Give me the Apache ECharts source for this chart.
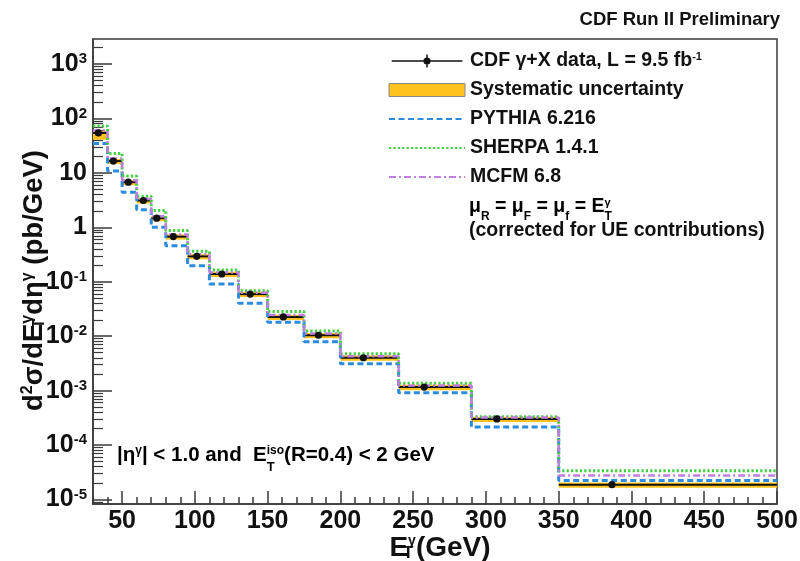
<!DOCTYPE html>
<html>
<head>
<meta charset="utf-8">
<script src="https://cdn.jsdelivr.net/npm/echarts/dist/echarts.min.js"></script>
<style>
html, body { margin: 0; padding: 0; background: #fff; }
#main { width: 800px; height: 561px; }
</style>
</head>
<body>
<div id="main"></div>
<script>
// bin edges (GeV)
var edges = [30, 40, 50, 60, 70, 80, 95, 110, 130, 150, 175, 200, 240, 290, 350, 500];
// mean E_T of the data points inside each bin
var xMean = [33.7, 44, 54.3, 64.6, 73.8, 85.2, 101.3, 118.5, 138, 160.8, 184.9, 215.8, 257.6, 307.5, 386.6];
// CDF data (pb/GeV)
var dataVal = [54.2, 16.5, 6.76, 3.11, 1.47, 0.675, 0.293, 0.139, 0.0593, 0.0226, 0.0104, 0.00402, 0.00116, 0.000302, 1.87e-5];
// relative stat. errors
var statErr = [0.01, 0.01, 0.01, 0.01, 0.01, 0.01, 0.01, 0.02, 0.02, 0.02, 0.03, 0.03, 0.04, 0.06, 0.08];
// relative systematic band
var sysUp = [0.10, 0.10, 0.10, 0.10, 0.10, 0.10, 0.10, 0.10, 0.10, 0.10, 0.10, 0.10, 0.10, 0.10, 0.10];
var sysDown = [0.25, 0.12, 0.12, 0.12, 0.12, 0.12, 0.12, 0.12, 0.12, 0.12, 0.12, 0.12, 0.12, 0.12, 0.12];
// theory predictions
var pythia = [34.5, 10.8, 4.43, 2.1, 1.0, 0.461, 0.197, 0.0907, 0.0405, 0.0181, 0.00794, 0.00312, 0.000912, 0.000215, 2.24e-5];
var sherpa = [72.9, 22.6, 8.73, 3.73, 2.04, 0.87, 0.362, 0.164, 0.0683, 0.0283, 0.0125, 0.00477, 0.00136, 0.000332, 3.38e-5];
var mcfm = [60, 18.3, 7.3, 3.3, 1.6, 0.74, 0.32, 0.148, 0.063, 0.0245, 0.0112, 0.0043, 0.00124, 0.00032, 2.77e-5];
// ticks
var xMajor = [50, 100, 150, 200, 250, 300, 350, 400, 450, 500];
var yMajor = [1e-5, 1e-4, 1e-3, 1e-2, 1e-1, 1, 10, 100, 1000];

var FONT = "'Liberation Sans', Arial, Helvetica, sans-serif";
var ORANGE = '#FFC21F';
var INK = '#111';
var FRAME = '#3a3a3a';

var xMinor = [];
for (var v = 30; v <= 500; v += 10) {
    if (v % 50 !== 0) xMinor.push(v);
}
var yMinor = [];
for (var e = -6; e <= 3; e++) {
    for (var k = 2; k <= 9; k++) yMinor.push(k * Math.pow(10, e));
}

// histogram as step points
function steps(vals) {
    var out = [];
    for (var i = 0; i < edges.length; i++) {
        out.push([edges[i], vals[Math.min(i, vals.length - 1)]]);
    }
    return out;
}

var bandData = [], dataPts = [];
for (var i = 0; i < dataVal.length; i++) {
    bandData.push([edges[i], edges[i + 1], dataVal[i] * (1 - sysDown[i]), dataVal[i] * (1 + sysUp[i])]);
    dataPts.push([edges[i], edges[i + 1], xMean[i], dataVal[i], dataVal[i] * (1 - statErr[i]), dataVal[i] * (1 + statErr[i])]);
}

function bold(size, extra) {
    var s = { fontSize: size, fontWeight: 'bold', fontFamily: FONT, color: INK };
    for (var key in extra) s[key] = extra[key];
    return s;
}

var legendText = {
    data: 'CDF γ+X data, L = 9.5 fb{sup|-1}',
    syst: 'Systematic uncertainty',
    pythia: 'PYTHIA 6.216',
    sherpa: 'SHERPA 1.4.1',
    mcfm: 'MCFM 6.8'
};

var chart = echarts.init(document.getElementById('main'));

var option = {
    animation: false,
    backgroundColor: '#fff',
    title: {
        text: 'CDF Run II Preliminary',
        right: 15,
        top: 5,
        textStyle: bold(18.5)
    },
    grid: {
        left: 93, top: 39, width: 684, height: 465,
        outerBoundsMode: 'none',
        containLabel: false,
        show: true, borderColor: FRAME, borderWidth: 1.5, backgroundColor: 'transparent'
    },
    legend: {
        orient: 'vertical',
        left: 388,
        top: 51,
        padding: 0,
        itemWidth: 76,
        itemHeight: 13,
        itemGap: 9,
        selectedMode: false,
        textStyle: bold(19.5, { rich: { sup: bold(11, { verticalAlign: 'top' }) } }),
        formatter: function (name) { return legendText[name]; },
        data: [
            { name: 'data', icon: 'path://M0,7H76M38,0V14M35,7a3,3 0 1,0 6,0a3,3 0 1,0 -6,0',
              itemStyle: { color: INK, borderColor: INK, borderWidth: 1.5 } },
            { name: 'syst', icon: 'rect', itemStyle: { color: ORANGE, borderColor: '#888', borderWidth: 1 } },
            { name: 'pythia', itemStyle: { opacity: 0 } },
            { name: 'sherpa', itemStyle: { opacity: 0 } },
            { name: 'mcfm', itemStyle: { opacity: 0 } }
        ]
    },
    xAxis: [{
        type: 'value', min: 30, max: 500, position: 'bottom',
        axisLine: { show: true, onZero: false, lineStyle: { color: FRAME, width: 1.5 } },
        axisTick: { show: true, inside: true, length: 13, customValues: xMajor, lineStyle: { color: FRAME, width: 1.5 } },
        axisLabel: { customValues: xMajor, fontSize: 25, fontWeight: 'bold', fontFamily: FONT, color: INK, margin: 5 },
        splitLine: { show: false },
        name: '{b|E}{st|T}{sup|γ}{b|(GeV)}',
        nameLocation: 'middle',
        nameGap: 30,
        nameMoveOverlap: false,
        nameTextStyle: {
            padding: [0, 0, 0, 10],
            rich: {
                b: bold(28),
                st: bold(17, { verticalAlign: 'bottom', width: 0 }),
                sup: bold(14, { verticalAlign: 'top' })
            }
        }
    }, {
        type: 'value', min: 30, max: 500, position: 'bottom',
        axisLine: { show: false },
        axisTick: { show: true, inside: true, length: 7, customValues: xMinor, lineStyle: { color: FRAME, width: 1.5 } },
        axisLabel: { show: false },
        splitLine: { show: false }
    }],
    yAxis: [{
        type: 'log', logBase: 10, min: 8.26e-6, max: 2884, position: 'left',
        axisLine: { show: true, lineStyle: { color: FRAME, width: 1.5 } },
        axisTick: { show: true, inside: true, length: 19, customValues: yMajor, lineStyle: { color: FRAME, width: 1.5 } },
        axisLabel: {
            customValues: yMajor,
            margin: 6,
            formatter: function (val) {
                var p = Math.round(Math.log(val) / Math.LN10);
                if (p === 0) return '{b|1}';
                if (p === 1) return '{b|10}';
                return '{b|10}{sup|' + p + '}';
            },
            rich: {
                b: bold(25, { verticalAlign: 'bottom' }),
                sup: bold(15, { verticalAlign: 'top', padding: [0, 0, 8, 0] })
            }
        },
        splitLine: { show: false },
        name: '{b|d}{sup|2}{b|σ/dE}{st|T}{sup|γ}{b|dη}{sup|γ}{b| (pb/GeV)}',
        nameLocation: 'middle',
        nameRotate: 90,
        nameGap: 45,
        nameMoveOverlap: false,
        nameTextStyle: {
            padding: [0, 18, 0, 0],
            rich: {
                b: bold(27.5),
                st: bold(16, { verticalAlign: 'bottom', width: 0 }),
                sup: bold(16, { verticalAlign: 'top' })
            }
        }
    }, {
        type: 'log', logBase: 10, min: 8.26e-6, max: 2884, position: 'left',
        axisLine: { show: false },
        axisTick: { show: true, inside: true, length: 10, customValues: yMinor, lineStyle: { color: FRAME, width: 1.2 } },
        axisLabel: { show: false },
        splitLine: { show: false }
    }],
    graphic: [{
        type: 'text', left: 469, top: 197, z: 20,
        style: {
            text: '{b|μ}{s|R}{b| = μ}{s|F}{b| = μ}{s|f}{b| = E}{st|T}{sup|γ}',
            rich: {
                b: bold(19.5, { verticalAlign: 'top' }),
                s: bold(12, { verticalAlign: 'bottom', padding: [14, 0, 0, 0] }),
                st: bold(12, { verticalAlign: 'bottom', width: 0, padding: [14, 0, 0, 0] }),
                sup: bold(11, { verticalAlign: 'top' })
            }
        }
    }, {
        type: 'text', left: 469, top: 221, z: 20,
        style: { text: '(corrected for UE contributions)', fontSize: 19.5, fontWeight: 'bold', fontFamily: FONT, fill: INK }
    }, {
        type: 'text', left: 117, top: 445, z: 20,
        style: {
            text: '{b||η}{sup|γ}{b|| < 1.0 and  E}{st|T}{sup|iso}{b|(R=0.4) < 2 GeV}',
            rich: {
                b: bold(20.5, { verticalAlign: 'top' }),
                st: bold(13, { verticalAlign: 'bottom', width: 0, padding: [16, 0, 0, 0] }),
                sup: bold(12, { verticalAlign: 'top' })
            }
        }
    }],
    series: [{
        name: 'syst',
        type: 'custom',
        z: 1,
        itemStyle: { color: ORANGE },
        encode: { x: [0, 1], y: [2, 3] },
        data: bandData,
        renderItem: function (params, api) {
            var p1 = api.coord([api.value(0), api.value(3)]);
            var p2 = api.coord([api.value(1), api.value(2)]);
            return {
                type: 'rect',
                shape: { x: p1[0], y: p1[1], width: p2[0] - p1[0], height: p2[1] - p1[1] },
                style: { fill: ORANGE }
            };
        }
    }, {
        name: 'data',
        type: 'custom',
        z: 3,
        itemStyle: { color: INK },
        encode: { x: [0, 1], y: 3 },
        data: dataPts,
        renderItem: function (params, api) {
            var y = api.value(3);
            var a = api.coord([api.value(0), y]);
            var b = api.coord([api.value(1), y]);
            return {
                type: 'line',
                shape: { x1: a[0], y1: a[1], x2: b[0], y2: b[1] },
                style: { stroke: INK, lineWidth: 2 }
            };
        }
    }, {
        name: 'pythia',
        type: 'line',
        step: 'end',
        symbol: 'none',
        z: 4,
        itemStyle: { color: '#2b8be0' },
        lineStyle: { color: '#2b8be0', width: 3, type: [6, 3.5] },
        data: steps(pythia)
    }, {
        name: 'sherpa',
        type: 'line',
        step: 'end',
        symbol: 'none',
        z: 4,
        itemStyle: { color: '#3fcf3f' },
        lineStyle: { color: '#3fcf3f', width: 3, type: [2.2, 2.2] },
        data: steps(sherpa)
    }, {
        name: 'mcfm',
        type: 'line',
        step: 'end',
        symbol: 'none',
        z: 5,
        itemStyle: { color: '#c07ee0' },
        lineStyle: { color: '#c07ee0', width: 2.5, type: [7, 3, 2, 3] },
        data: steps(mcfm)
    }, {
        name: 'data',
        type: 'custom',
        z: 6,
        itemStyle: { color: INK },
        encode: { x: 2, y: 3 },
        data: dataPts,
        renderItem: function (params, api) {
            var c = api.coord([api.value(2), api.value(3)]);
            var lo = api.coord([api.value(2), api.value(4)]);
            var hi = api.coord([api.value(2), api.value(5)]);
            return {
                type: 'group',
                children: [{
                    type: 'line',
                    shape: { x1: lo[0], y1: lo[1], x2: hi[0], y2: hi[1] },
                    style: { stroke: INK, lineWidth: 2 }
                }, {
                    type: 'circle',
                    shape: { cx: c[0], cy: c[1], r: 3.6 },
                    style: { fill: INK }
                }]
            };
        }
    }]
};

chart.setOption(option);
</script>
</body>
</html>
